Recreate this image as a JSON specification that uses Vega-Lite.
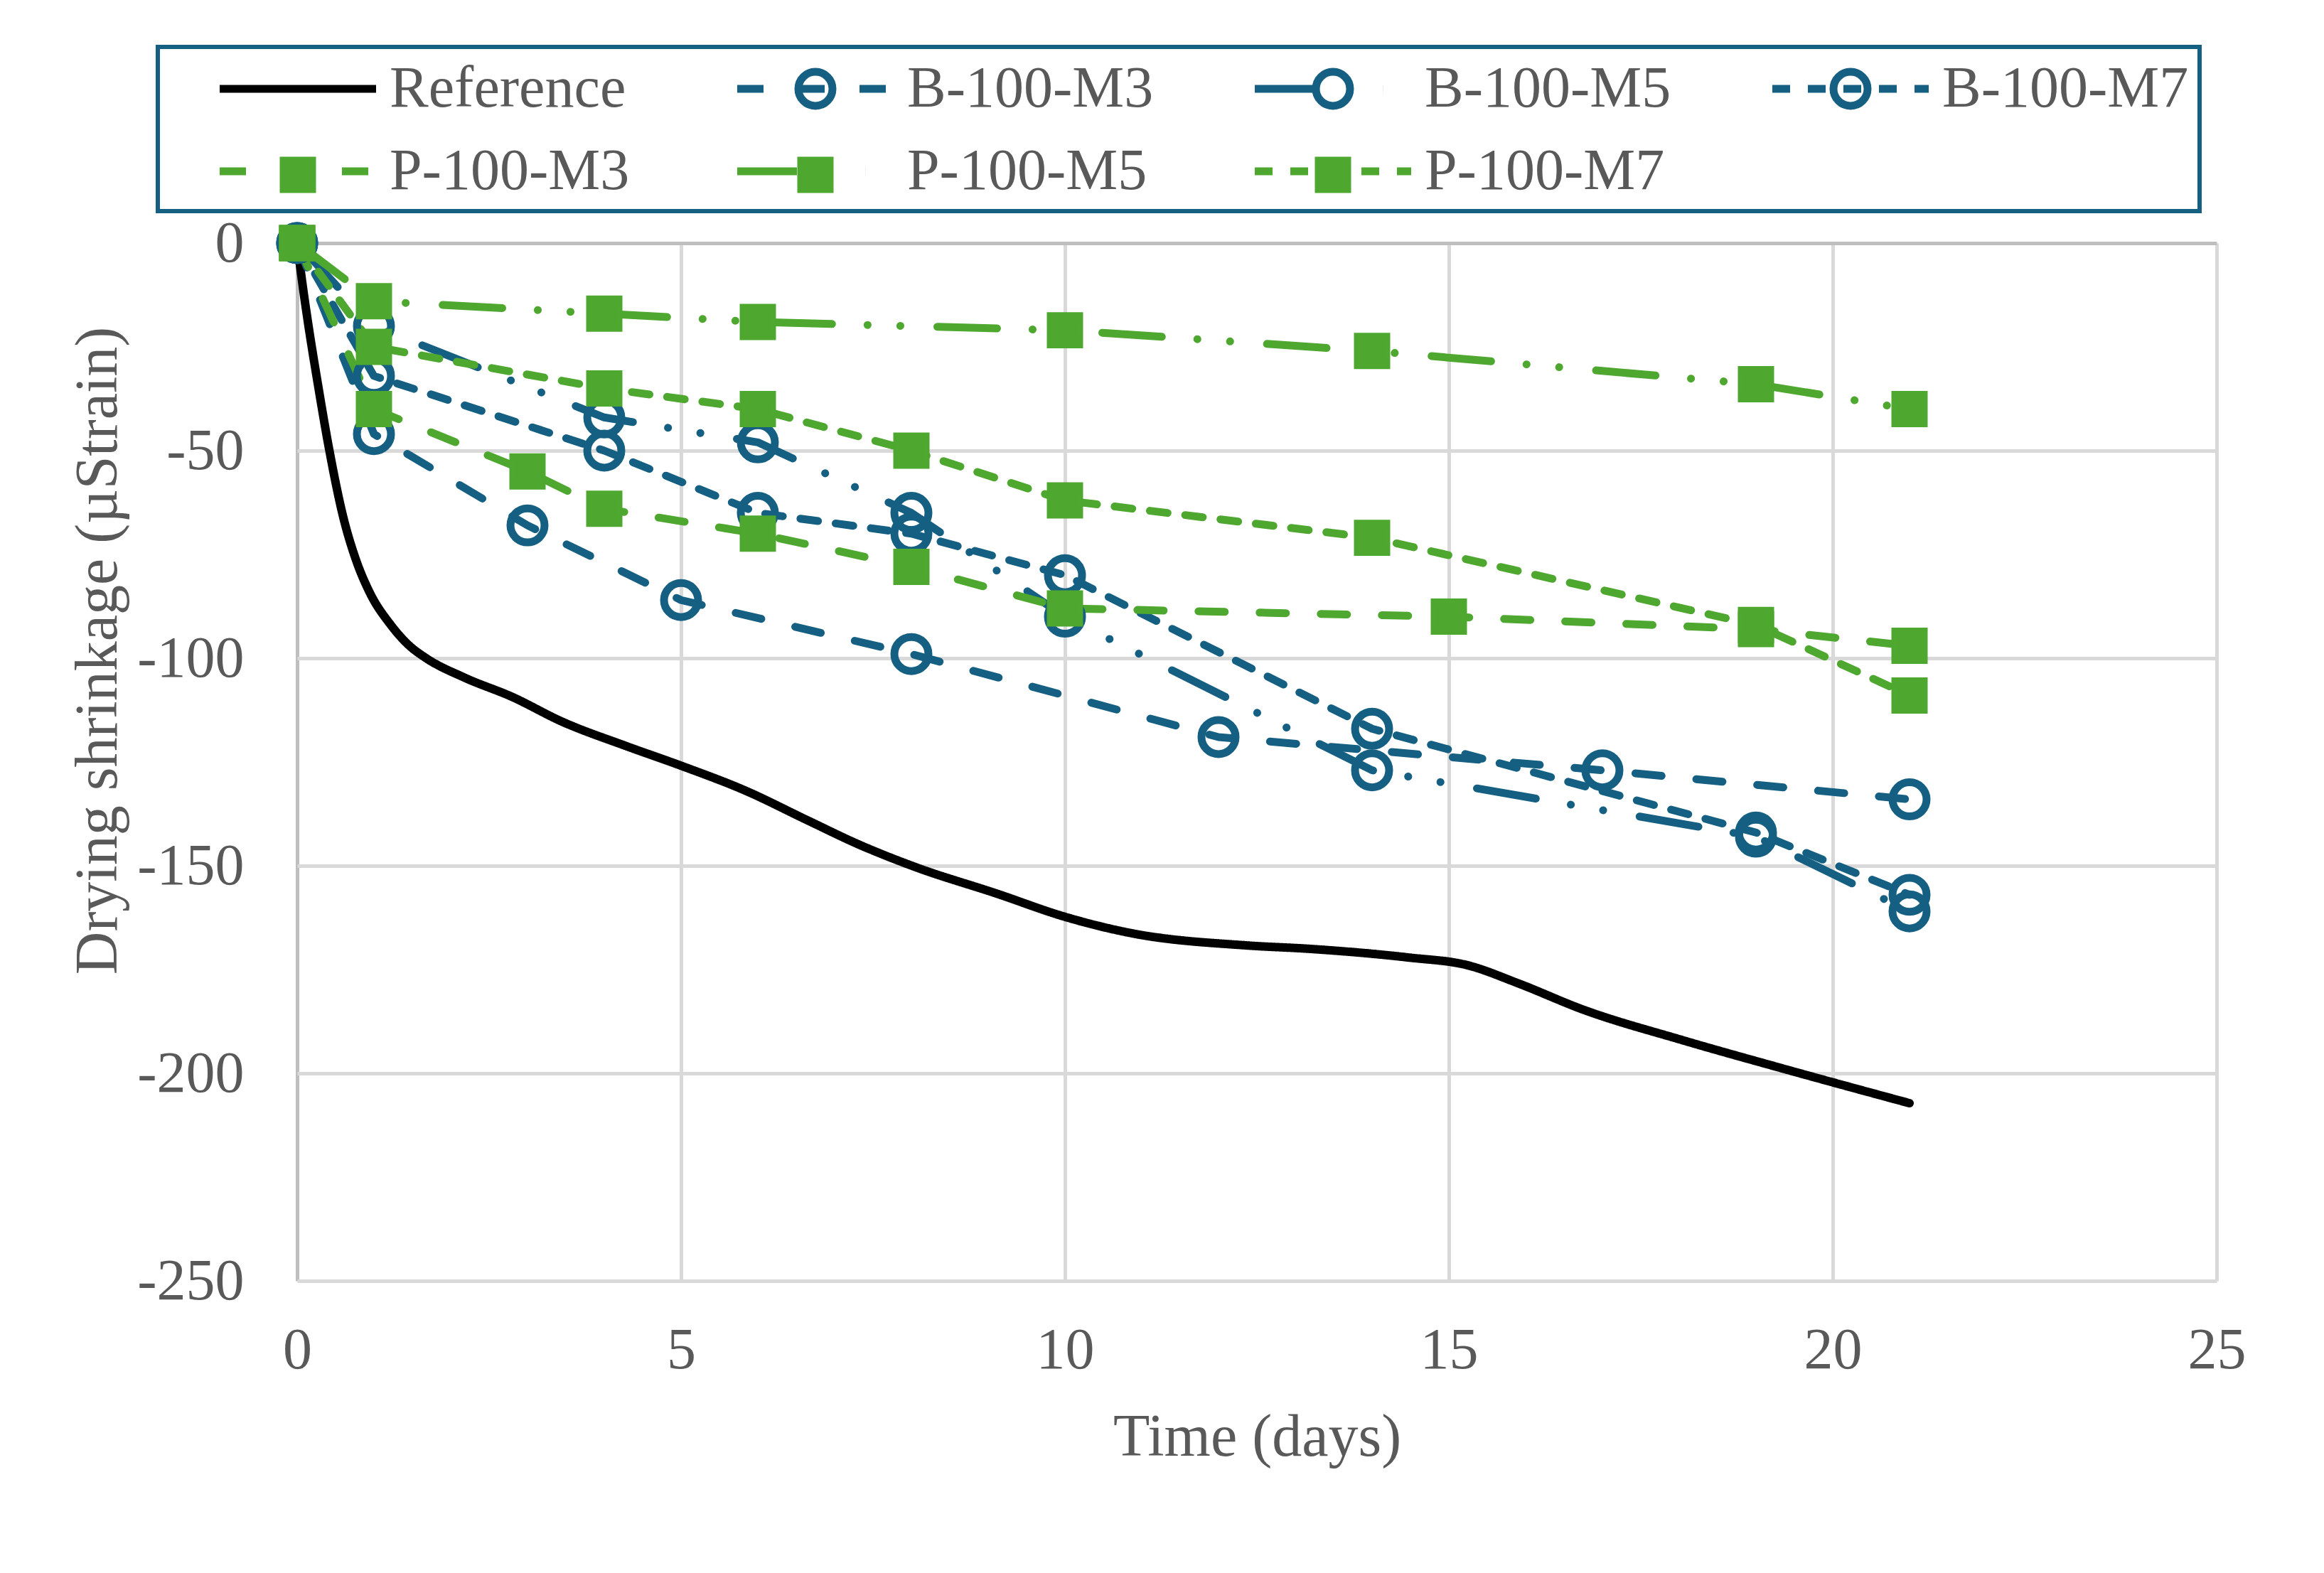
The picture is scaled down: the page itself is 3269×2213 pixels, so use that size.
{
  "$schema": "https://vega.github.io/schema/vega-lite/v6.json",
  "width": 2700,
  "height": 1460,
  "autosize": "none",
  "padding": {"left": 418, "top": 342, "right": 151, "bottom": 411},
  "background": "white",
  "config": {"font": "Liberation Serif", "view": {"stroke": null}},
  "data": {
    "values": [
      {"series": "Reference", "t": 0, "v": 0},
      {"series": "Reference", "t": 0.07, "v": -10},
      {"series": "Reference", "t": 0.14, "v": -19},
      {"series": "Reference", "t": 0.27, "v": -34},
      {"series": "Reference", "t": 0.42, "v": -50},
      {"series": "Reference", "t": 0.6, "v": -66},
      {"series": "Reference", "t": 0.76, "v": -76},
      {"series": "Reference", "t": 0.94, "v": -84},
      {"series": "Reference", "t": 1.22, "v": -92},
      {"series": "Reference", "t": 1.45, "v": -96.8},
      {"series": "Reference", "t": 1.68, "v": -100},
      {"series": "Reference", "t": 2.17, "v": -104.6},
      {"series": "Reference", "t": 2.81, "v": -109.4},
      {"series": "Reference", "t": 3.44, "v": -115.2},
      {"series": "Reference", "t": 4.29, "v": -121.2},
      {"series": "Reference", "t": 5, "v": -125.9},
      {"series": "Reference", "t": 5.85, "v": -132},
      {"series": "Reference", "t": 6.63, "v": -138.9},
      {"series": "Reference", "t": 7.33, "v": -145},
      {"series": "Reference", "t": 8.05, "v": -150.3},
      {"series": "Reference", "t": 9.11, "v": -156.7},
      {"series": "Reference", "t": 10, "v": -162.3},
      {"series": "Reference", "t": 10.88, "v": -166.3},
      {"series": "Reference", "t": 12.37, "v": -169.2},
      {"series": "Reference", "t": 13.17, "v": -170},
      {"series": "Reference", "t": 14.47, "v": -172.1},
      {"series": "Reference", "t": 15.25, "v": -174},
      {"series": "Reference", "t": 15.9, "v": -178.3},
      {"series": "Reference", "t": 16.74, "v": -184.6},
      {"series": "Reference", "t": 18.04, "v": -192},
      {"series": "Reference", "t": 19.34, "v": -198.8},
      {"series": "Reference", "t": 21, "v": -207.2},
      {"series": "B-100-M3", "t": 0, "v": 0},
      {"series": "B-100-M3", "t": 1, "v": -46},
      {"series": "B-100-M3", "t": 3, "v": -68},
      {"series": "B-100-M3", "t": 5, "v": -86},
      {"series": "B-100-M3", "t": 8, "v": -99},
      {"series": "B-100-M3", "t": 12, "v": -119},
      {"series": "B-100-M3", "t": 17, "v": -127},
      {"series": "B-100-M3", "t": 21, "v": -134},
      {"series": "B-100-M5", "t": 0, "v": 0},
      {"series": "B-100-M5", "t": 1, "v": -20},
      {"series": "B-100-M5", "t": 4, "v": -42},
      {"series": "B-100-M5", "t": 6, "v": -48},
      {"series": "B-100-M5", "t": 8, "v": -65},
      {"series": "B-100-M5", "t": 10, "v": -90},
      {"series": "B-100-M5", "t": 14, "v": -127},
      {"series": "B-100-M5", "t": 19, "v": -143},
      {"series": "B-100-M5", "t": 21, "v": -161},
      {"series": "B-100-M7", "t": 0, "v": 0},
      {"series": "B-100-M7", "t": 1, "v": -32},
      {"series": "B-100-M7", "t": 4, "v": -50},
      {"series": "B-100-M7", "t": 6, "v": -65},
      {"series": "B-100-M7", "t": 8, "v": -70},
      {"series": "B-100-M7", "t": 10, "v": -80},
      {"series": "B-100-M7", "t": 14, "v": -117},
      {"series": "B-100-M7", "t": 19, "v": -142},
      {"series": "B-100-M7", "t": 21, "v": -157},
      {"series": "P-100-M3", "t": 0, "v": 0},
      {"series": "P-100-M3", "t": 1, "v": -40},
      {"series": "P-100-M3", "t": 3, "v": -55},
      {"series": "P-100-M3", "t": 4, "v": -64},
      {"series": "P-100-M3", "t": 6, "v": -70},
      {"series": "P-100-M3", "t": 8, "v": -78},
      {"series": "P-100-M3", "t": 10, "v": -88},
      {"series": "P-100-M3", "t": 15, "v": -90},
      {"series": "P-100-M3", "t": 19, "v": -93},
      {"series": "P-100-M3", "t": 21, "v": -97},
      {"series": "P-100-M5", "t": 0, "v": 0},
      {"series": "P-100-M5", "t": 1, "v": -14},
      {"series": "P-100-M5", "t": 4, "v": -17},
      {"series": "P-100-M5", "t": 6, "v": -19},
      {"series": "P-100-M5", "t": 10, "v": -21},
      {"series": "P-100-M5", "t": 14, "v": -26},
      {"series": "P-100-M5", "t": 19, "v": -34},
      {"series": "P-100-M5", "t": 21, "v": -40},
      {"series": "P-100-M7", "t": 0, "v": 0},
      {"series": "P-100-M7", "t": 1, "v": -25},
      {"series": "P-100-M7", "t": 4, "v": -35},
      {"series": "P-100-M7", "t": 6, "v": -40},
      {"series": "P-100-M7", "t": 8, "v": -50},
      {"series": "P-100-M7", "t": 10, "v": -62},
      {"series": "P-100-M7", "t": 14, "v": -71},
      {"series": "P-100-M7", "t": 19, "v": -92},
      {"series": "P-100-M7", "t": 21, "v": -109}
    ]
  },
  "encoding": {
    "x": {
      "field": "t",
      "type": "quantitative",
      "scale": {"domain": [0, 25], "nice": false},
      "axis": {
        "values": [0, 5, 10, 15, 20, 25],
        "domain": false,
        "ticks": false,
        "tickSize": 0,
        "grid": true,
        "gridColor": {"condition": {"test": "datum.value === 0", "value": "#BFBFBF"}, "value": "#D9D9D9"},
        "gridWidth": 5,
        "labelFont": "Liberation Serif",
        "labelFontSize": 82,
        "labelColor": "#595959",
        "labelPadding": 57,
        "labelFlush": false,
        "labelOverlap": false,
        "title": "Time (days)",
        "titleFont": "Liberation Serif",
        "titleFontSize": 84,
        "titleFontWeight": "normal",
        "titleColor": "#595959",
        "titleBaseline": "alphabetic",
        "titleY": 245
      }
    },
    "y": {
      "field": "v",
      "type": "quantitative",
      "scale": {"domain": [-250, 0], "nice": false},
      "axis": {
        "values": [0, -50, -100, -150, -200, -250],
        "labelExpr": "'' + datum.value",
        "domain": false,
        "ticks": false,
        "tickSize": 0,
        "grid": true,
        "gridColor": {"condition": {"test": "datum.value === 0", "value": "#BFBFBF"}, "value": "#D9D9D9"},
        "gridWidth": 5,
        "labelFont": "Liberation Serif",
        "labelFontSize": 82,
        "labelColor": "#595959",
        "labelPadding": 75,
        "labelFlush": false,
        "labelOverlap": false,
        "title": "Drying shrinkage (µStrain)",
        "titleFont": "Liberation Serif",
        "titleFontSize": 84,
        "titleFontWeight": "normal",
        "titleColor": "#595959",
        "titleAngle": 270,
        "titleAlign": "center",
        "titleBaseline": "alphabetic",
        "titleX": -255,
        "titleY": 573
      }
    }
  },
  "layer": [
    {
      "transform": [{"filter": "datum.series === 'Reference'"}],
      "mark": {"type": "line", "interpolate": "monotone", "strokeWidth": 12, "strokeCap": "round", "strokeJoin": "round", "clip": false},
      "encoding": {
        "color": {
          "field": "series", "type": "nominal",
          "scale": {
            "domain": ["Reference", "B-100-M3", "B-100-M5", "B-100-M7", "P-100-M3", "P-100-M5", "P-100-M7"],
            "range": ["#000000", "#156082", "#156082", "#156082", "#4EA72E", "#4EA72E", "#4EA72E"]
          },
          "legend": {
            "orient": "none", "direction": "horizontal", "legendX": -196, "legendY": -276, "columns": 4, "gridAlign": "all",
            "columnPadding": 70, "rowPadding": 31, "padding": 15,
            "symbolType": "M-2.857,0H2.857", "symbolSize": 5929, "symbolStrokeWidth": 11, "symbolOffset": 138,
            "labelOffset": 85, "labelFont": "Liberation Serif", "labelFontSize": 82, "labelColor": "#595959", "labelLimit": 0,
            "title": null, "strokeColor": "#156082",
            "encode": {"legend": {"update": {"strokeWidth": {"value": 6}}}}
          }
        },
        "strokeDash": {
          "field": "series", "type": "nominal",
          "scale": {
            "domain": ["Reference", "B-100-M3", "B-100-M5", "B-100-M7", "P-100-M3", "P-100-M5", "P-100-M7"],
            "range": [[1, 0], [37, 49], [84, 50, 0.1, 46, 0.1, 52], [25, 25], [37, 49], [84, 50, 0.1, 46, 0.1, 52], [25, 25]]
          },
          "legend": {
            "orient": "none", "direction": "horizontal", "legendX": -196, "legendY": -276, "columns": 4, "gridAlign": "all",
            "columnPadding": 70, "rowPadding": 31, "padding": 15,
            "symbolType": "M-2.857,0H2.857", "symbolSize": 5929, "symbolStrokeWidth": 11, "symbolOffset": 138,
            "labelOffset": 85, "labelFont": "Liberation Serif", "labelFontSize": 82, "labelColor": "#595959", "labelLimit": 0,
            "title": null, "strokeColor": "#156082",
            "encode": {"legend": {"update": {"strokeWidth": {"value": 6}}}}
          }
        }
      }
    },
    {
      "transform": [{"filter": "datum.series !== 'Reference'"}],
      "mark": {"type": "line", "strokeWidth": 11, "strokeCap": "round", "strokeJoin": "round", "clip": false},
      "encoding": {
        "color": {
          "field": "series", "type": "nominal",
          "scale": {
            "domain": ["Reference", "B-100-M3", "B-100-M5", "B-100-M7", "P-100-M3", "P-100-M5", "P-100-M7"],
            "range": ["#000000", "#156082", "#156082", "#156082", "#4EA72E", "#4EA72E", "#4EA72E"]
          },
          "legend": {
            "orient": "none", "direction": "horizontal", "legendX": -196, "legendY": -276, "columns": 4, "gridAlign": "all",
            "columnPadding": 70, "rowPadding": 31, "padding": 15,
            "symbolType": "M-2.857,0H2.857", "symbolSize": 5929, "symbolStrokeWidth": 11, "symbolOffset": 138,
            "labelOffset": 85, "labelFont": "Liberation Serif", "labelFontSize": 82, "labelColor": "#595959", "labelLimit": 0,
            "title": null, "strokeColor": "#156082",
            "encode": {"legend": {"update": {"strokeWidth": {"value": 6}}}}
          }
        },
        "strokeDash": {
          "field": "series", "type": "nominal",
          "scale": {
            "domain": ["Reference", "B-100-M3", "B-100-M5", "B-100-M7", "P-100-M3", "P-100-M5", "P-100-M7"],
            "range": [[1, 0], [37, 49], [84, 50, 0.1, 46, 0.1, 52], [25, 25], [37, 49], [84, 50, 0.1, 46, 0.1, 52], [25, 25]]
          },
          "legend": {
            "orient": "none", "direction": "horizontal", "legendX": -196, "legendY": -276, "columns": 4, "gridAlign": "all",
            "columnPadding": 70, "rowPadding": 31, "padding": 15,
            "symbolType": "M-2.857,0H2.857", "symbolSize": 5929, "symbolStrokeWidth": 11, "symbolOffset": 138,
            "labelOffset": 85, "labelFont": "Liberation Serif", "labelFontSize": 82, "labelColor": "#595959", "labelLimit": 0,
            "title": null, "strokeColor": "#156082",
            "encode": {"legend": {"update": {"strokeWidth": {"value": 6}}}}
          }
        }
      }
    },
    {
      "mark": {"type": "point", "size": 5929, "strokeWidth": 11, "opacity": 1, "clip": false},
      "encoding": {
        "shape": {
          "field": "series", "type": "nominal",
          "scale": {
            "domain": ["Reference", "B-100-M3", "B-100-M5", "B-100-M7", "P-100-M3", "P-100-M5", "P-100-M7", " "],
            "range": [
              "M-2.857,0M2.857,0",
              "M-2.857,0M2.857,0M0.623,0A0.623,0.623,0,1,1,-0.623,0A0.623,0.623,0,1,1,0.623,0Z",
              "M-2.857,0M2.857,0M0.623,0A0.623,0.623,0,1,1,-0.623,0A0.623,0.623,0,1,1,0.623,0Z",
              "M-2.857,0M2.857,0M0.623,0A0.623,0.623,0,1,1,-0.623,0A0.623,0.623,0,1,1,0.623,0Z",
              "M-2.857,0M2.857,0M-0.519,-0.519H0.519V0.519H-0.519Z",
              "M-2.857,0M2.857,0M-0.519,-0.519H0.519V0.519H-0.519Z",
              "M-2.857,0M2.857,0M-0.519,-0.519H0.519V0.519H-0.519Z",
              "M-2.857,0M2.857,0"
            ]
          },
          "legend": {
            "orient": "none", "direction": "horizontal", "legendX": -196, "legendY": -276, "columns": 4, "gridAlign": "all",
            "columnPadding": 70, "rowPadding": 31, "padding": 15,
            "symbolSize": 5929, "symbolStrokeWidth": 11, "symbolOffset": 138,
            "labelOffset": 85, "labelFont": "Liberation Serif", "labelFontSize": 82, "labelOpacity": 0, "labelLimit": 0,
            "title": null
          }
        },
        "stroke": {
          "field": "series", "type": "nominal",
          "scale": {
            "domain": ["Reference", "B-100-M3", "B-100-M5", "B-100-M7", "P-100-M3", "P-100-M5", "P-100-M7", " "],
            "range": ["#000000", "#156082", "#156082", "#156082", "#4EA72E", "#4EA72E", "#4EA72E", "transparent"]
          },
          "legend": {
            "orient": "none", "direction": "horizontal", "legendX": -196, "legendY": -276, "columns": 4, "gridAlign": "all",
            "columnPadding": 70, "rowPadding": 31, "padding": 15,
            "symbolSize": 5929, "symbolStrokeWidth": 11, "symbolOffset": 138,
            "labelOffset": 85, "labelFont": "Liberation Serif", "labelFontSize": 82, "labelOpacity": 0, "labelLimit": 0,
            "title": null
          }
        },
        "fill": {
          "field": "series", "type": "nominal",
          "scale": {
            "domain": ["Reference", "B-100-M3", "B-100-M5", "B-100-M7", "P-100-M3", "P-100-M5", "P-100-M7", " "],
            "range": ["transparent", "transparent", "transparent", "transparent", "#4EA72E", "#4EA72E", "#4EA72E", "transparent"]
          },
          "legend": {
            "orient": "none", "direction": "horizontal", "legendX": -196, "legendY": -276, "columns": 4, "gridAlign": "all",
            "columnPadding": 70, "rowPadding": 31, "padding": 15,
            "symbolSize": 5929, "symbolStrokeWidth": 11, "symbolOffset": 138,
            "labelOffset": 85, "labelFont": "Liberation Serif", "labelFontSize": 82, "labelOpacity": 0, "labelLimit": 0,
            "title": null
          }
        }
      }
    }
  ]
}
